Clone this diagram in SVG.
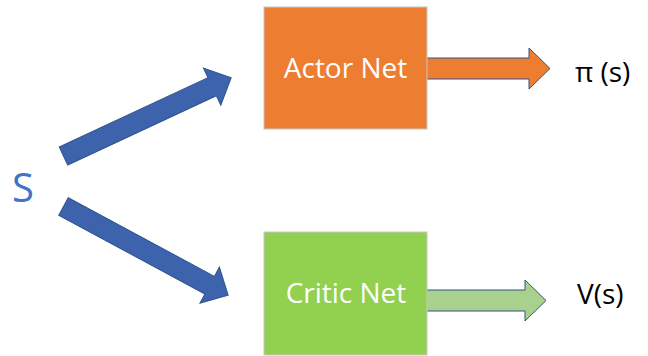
<svg xmlns="http://www.w3.org/2000/svg" width="648" height="356" viewBox="0 0 648 356">
  <style>
    .lbl { font-family: "Open Sans", "Liberation Sans", sans-serif; }
    .box-text { fill: #ffffff; font-size: 28px; text-anchor: middle; }
    .out-text { fill: #000000; font-size: 28px; }
    .big-arrow { fill: #3D63AC; stroke: #2F528F; stroke-width: 1; }
    .box { stroke: #C8C8C8; stroke-width: 1; }
  </style>
  <rect width="648" height="356" fill="#ffffff"/>

  <!-- input state -->
  <g id="state">
    <text class="lbl" x="12" y="202" font-size="40" fill="#4472C4">S</text>
  </g>

  <!-- connectors -->
  <g id="connectors">
    <!-- block arrow: shaft half-width 10, head half-width 20.5, head length 21 -->
    <polygon class="big-arrow" transform="translate(63.5,156) rotate(-25)"
             points="0,-10 164,-10 164,-20.5 185,0 164,20.5 164,10 0,10"/>
    <polygon class="big-arrow" transform="translate(63.5,206.5) rotate(28.3)"
             points="0,-10 166,-10 166,-20.5 187,0 166,20.5 166,10 0,10"/>
    <polygon fill="#ED7D31" stroke="#2F528F" stroke-width="1"
             points="426,58 529,58 529,48 550,68.5 529,89 529,79 426,79"/>
    <polygon fill="#A9D18E" stroke="#2F528F" stroke-width="1"
             points="422,290 525,290 525,280 546,300.5 525,321 525,311 422,311"/>
  </g>

  <!-- actor network -->
  <g id="actor">
    <rect class="box" x="264" y="7" width="163" height="122" fill="#ED7D31"/>
    <text class="lbl box-text" x="345.5" y="78">Actor Net</text>
  </g>

  <!-- critic network -->
  <g id="critic">
    <rect class="box" x="264" y="232" width="163" height="123" fill="#92D050"/>
    <text class="lbl box-text" x="346" y="303">Critic Net</text>
  </g>

  <!-- outputs -->
  <g id="policy">
    <text class="lbl out-text" x="575" y="82">π (s)</text>
  </g>
  <g id="value">
    <text class="lbl out-text" x="577" y="304">V(s)</text>
  </g>
</svg>
